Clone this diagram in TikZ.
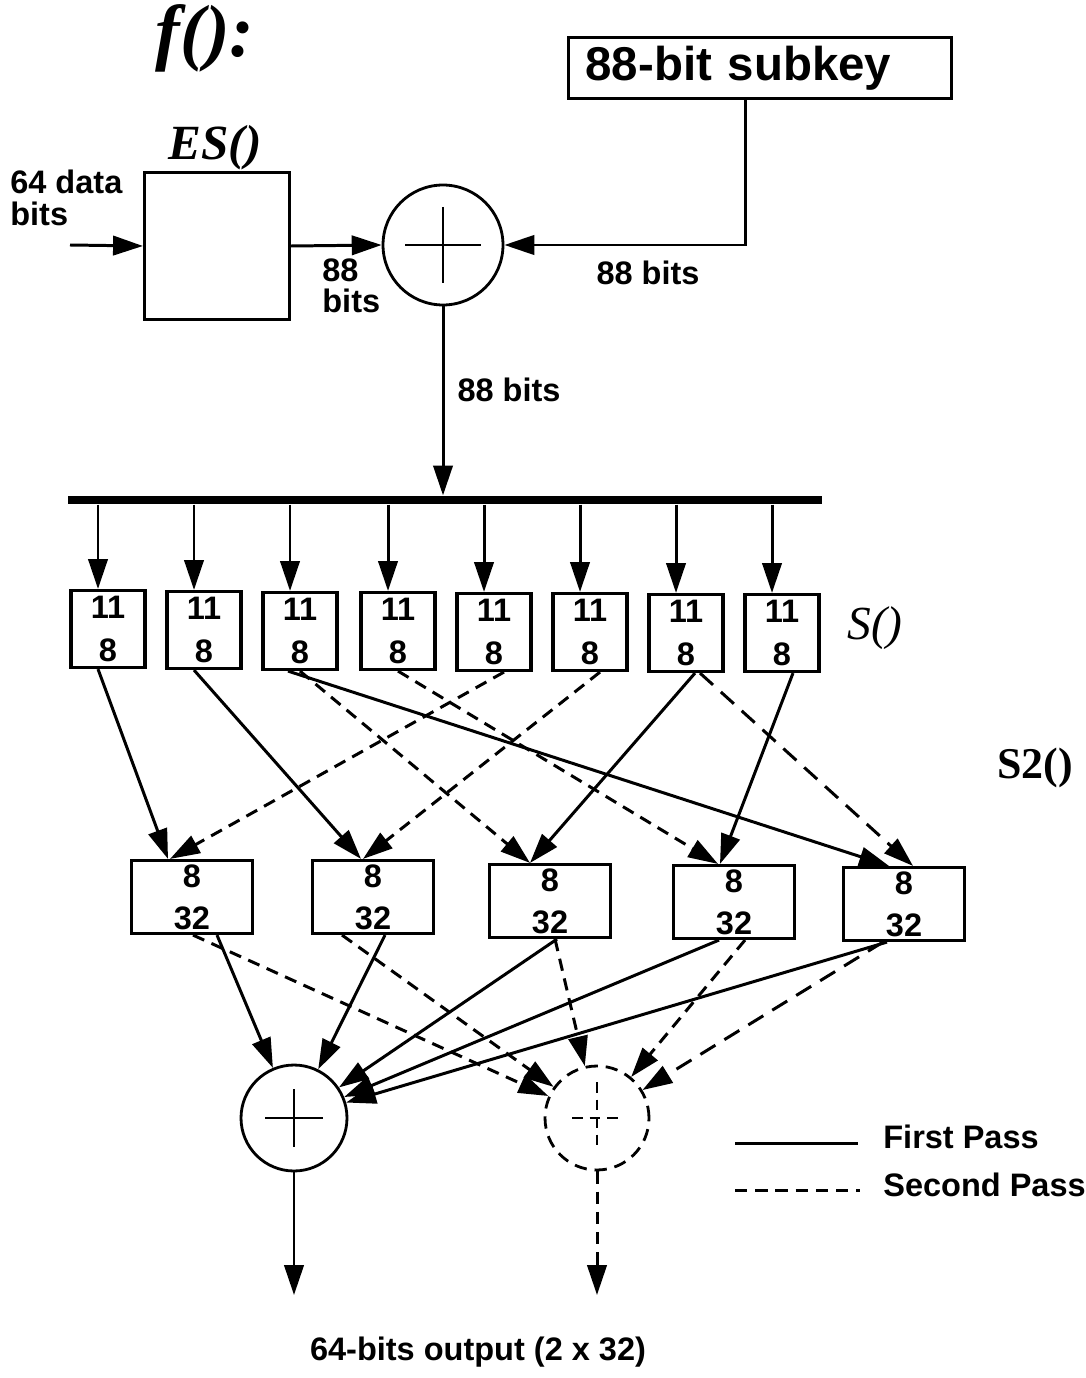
\documentclass[tikz,border=0pt]{standalone}
\usepackage{fontspec}
\usetikzlibrary{arrows.meta,positioning,calc}
\newfontfamily\lsans{Liberation Sans}
\newfontfamily\lserif{Liberation Serif}
\newcommand{\lab}{\lsans\bfseries\fontsize{18.5}{18}\selectfont}

\begin{document}
\begin{tikzpicture}[x=0.02cm, y=-0.02cm,
  every node/.style={inner sep=0pt},
  box/.style={draw, line width=1.8pt},
  sbox/.style={box, minimum width=1.48cm, minimum height=1.54cm, align=center,
    font=\lsans\bfseries\fontsize{18.5}{25}\selectfont},
  pbox/.style={box, minimum width=2.42cm, minimum height=1.46cm, align=center,
    font=\lsans\bfseries\fontsize{18.5}{24}\selectfont},
  xor/.style={circle, draw, line width=1.6pt},
  arr/.style={-{Triangle[length=17pt,width=11pt]}, line width=1.7pt},
  darr/.style={arr, dash pattern=on 7pt off 4.5pt},
  ldarr/.style={arr, dash pattern=on 10pt off 6pt}]
  \useasboundingbox (0,0) rectangle (1085,1378);

  % key mixing
  \node[font=\lserif\bfseries\itshape\fontsize{42}{42}\selectfont] (ftitle) at (205,38) {f():};
  \node[box, align=left, text width=6.98cm, inner xsep=0.34cm, minimum height=1.22cm,
        font=\lsans\bfseries\fontsize{27}{27}\selectfont] (key) at (760,68) {88-bit subkey};
  \node[font=\lserif\bfseries\itshape\fontsize{28}{28}\selectfont] (eslab) at (215,148) {ES()};
  \node[box, minimum width=2.9cm, minimum height=2.94cm] (es) at (217,246) {};
  \node[xor, minimum size=2.4cm] (x1) at (443,245) {};
  \draw[line width=1.6pt] ($(x1.center)+(-38,0)$) -- ($(x1.center)+(38,0)$)
                          ($(x1.center)+(0,-38)$) -- ($(x1.center)+(0,38)$);

  \node[font=\lab, align=left, anchor=north west] (inlab) at (10,170) {64 data\\bits};
  \node[font=\lab, align=left, anchor=north west] (eslab2) at (322,258) {88\\bits};
  \node[font=\lab] (keylab) at (648,273) {88 bits};
  \node[font=\lab] (xlab) at (509,390) {88 bits};

  \coordinate (din) at (70,245);
  \coordinate (kd) at ($(key.south)+(-15,0)$);
  \draw[arr] (din) -- (es.west);
  \draw[arr] (es.east) -- (x1.west);
  \draw[arr] (kd) |- (x1.east);

  % bus and S() boxes
  \node[fill=black, minimum width=15.08cm, minimum height=0.17cm] (bus) at (445,500) {};
  \draw[arr] (x1.south) -- (x1.south |- bus.north);

  \foreach \i/\x/\y in {1/108/629, 2/204/630, 3/300/631, 4/398/631, 5/494/632, 6/590/632, 7/686/633, 8/782/633}
    \node[sbox] (s\i) at (\x,\y) {11\\8};
  \foreach \i in {1,...,8} {
    \coordinate (t\i) at ($(s\i.north)+(-10,0)$);
    \draw[arr] (t\i |- bus.south) -- (t\i);
  }
  \node[font=\lserif\itshape\fontsize{27}{27}\selectfont] (slab) at (875,628) {S()};
  \node[font=\lserif\bfseries\fontsize{25}{25}\selectfont] (s2lab) at (1035,768) {S2()};

  % S2() boxes
  \node[pbox] (p1) at (192,897) {8\\32};
  \node[pbox] (p2) at (373,897) {8\\32};
  \node[pbox] (p3) at (550,901) {8\\32};
  \node[pbox] (p4) at (734,902) {8\\32};
  \node[pbox] (p5) at (904,904) {8\\32};

  \foreach \a/\da/\b/\db/\st in {s1/-10/p1/-24/arr, s2/-10/p2/-12/arr, s3/-12/p5/-15/arr,
      s7/9/p3/-20/arr, s8/11/p4/-14/arr, s3/0/p3/-20/darr, s4/0/p4/-16/darr,
      s5/10/p1/-22/darr, s6/10/p2/-10/darr, s7/14/p5/9/ldarr}
    \draw[\st] ($(\a.south)+(\da,0)$) -- ($(\b.north)+(\db,0)$);

  % output adders
  \node[xor, minimum size=2.12cm] (o1) at (294,1118) {};
  \node[xor, dash pattern=on 7pt off 4.5pt, minimum size=2.08cm] (o2) at (597,1118) {};
  \draw[line width=1.6pt] ($(o1.center)+(-29,0)$) -- ($(o1.center)+(29,0)$)
                          ($(o1.center)+(0,-29)$) -- ($(o1.center)+(0,29)$);
  \draw[line width=1.6pt, dash pattern=on 6pt off 4pt] ($(o2.center)+(-25,0)$) -- ($(o2.center)+(25,0)$)
                          ($(o2.center)+(0,-36)$) -- ($(o2.center)+(0,34)$);

  \foreach \a/\da/\st/\o in {p1/25/arr/o1, p2/12/arr/o1, p3/7/arr/o1, p4/-15/arr/o1, p5/-17/arr/o1,
      p1/1/darr/o2, p2/-31/darr/o2, p3/5/darr/o2, p4/11/darr/o2, p5/-21/ldarr/o2}
    \draw[\st] ($(\a.south)+(\da,0)$) -- (\o);

  \coordinate (out1) at (294,1295);
  \coordinate (out2) at (597,1295);
  \draw[arr] (o1.south) -- (out1);
  \draw[darr] (o2.south) -- (out2);
  \node[font=\lab] (outlab) at (478,1352) {64-bits output (2 x 32)};

  % legend
  \coordinate (l1a) at (735,1143);
  \coordinate (l1b) at (858,1143);
  \coordinate (l2a) at (735,1190);
  \coordinate (l2b) at (860,1190);
  \draw[line width=1.7pt] (l1a) -- (l1b);
  \draw[line width=1.7pt, dash pattern=on 7pt off 4.5pt] (l2a) -- (l2b);
  \node[font=\lab, anchor=west] (leg1) at (883,1137) {First Pass};
  \node[font=\lab, anchor=west] (leg2) at (883,1185) {Second Pass};
\end{tikzpicture}
\end{document}
